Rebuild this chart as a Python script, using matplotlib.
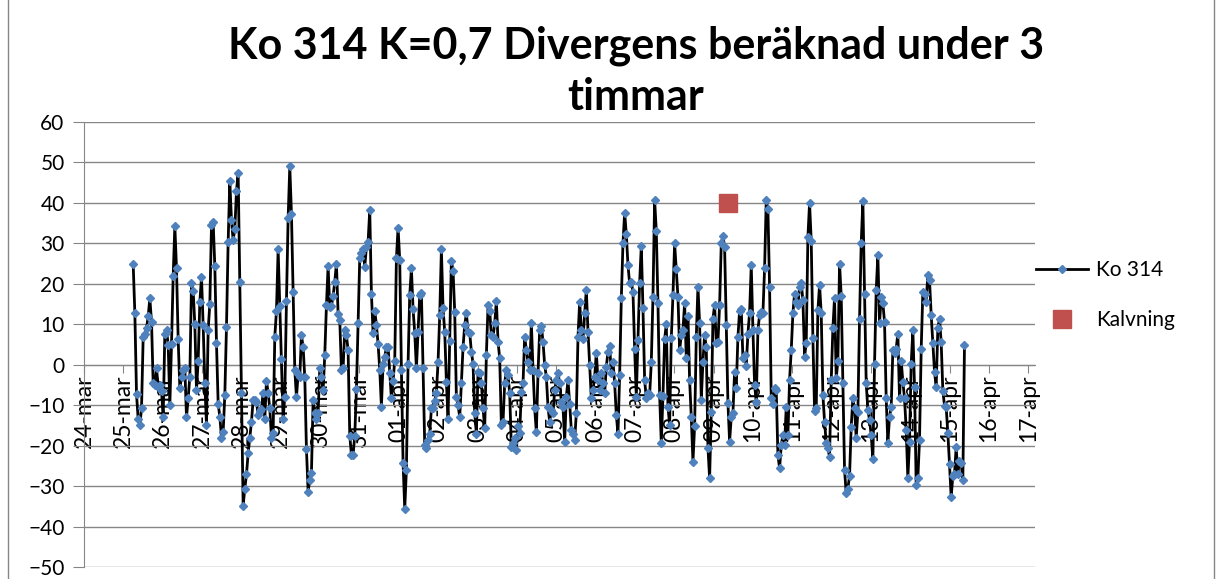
import numpy as np
import pandas as pd
import matplotlib
matplotlib.use("Agg")
import matplotlib.pyplot as plt

plt.rcParams['font.family'] = ['Lato', 'DejaVu Sans']

# Ko 314 divergens, one value per hour, 25-mar 06:00 -> 15-apr 09:00
divergens = [
    24.8, 12.7, -7.3, -13.5, -15, -10.8, 6.9, 7.5, 9, 12, 16.4, 10.6, -4.6, -5, -0.9, -5.4, -5, -6.4,
    -12.8, 7.7, 8.6, 4.9, -10, 5.1, 21.9, 34.3, 23.8, 6.3, -5.8, -3, -1.3, -0.9, -13, -8.3, -3, 20.3,
    18.3, 10, -6.3, 0.9, 15.5, 21.7, 9.8, -4.6, -14.9, 8.6, 15, 34.5, 35.3, 24.4, 5.3, -9.6,
    -12.8, -18, -16.6, -7.5, 9.4, 30.4, 45.4, 35.7, 30.8, 33.5, 43, 47.4, 20.5, -6.9, -34.8, -30.6,
    -27.1, -21.9, -18, -14.1, -8.7, -8.6, -9.1, -12.4, -11.4, -11, -6.9, -13.3, -4, -6.9, -10.8, -18,
    -16.8, 6.9, 13.3, 28.5, 14.5, 1.4, -13.3, -7.9, 15.8, 36.2, 49.1, 37.2, 18, -1.2, -8.1, -2.3, -3,
    7.3, 4.4, -3.1, -20.9, -31.4,
    -28.5, -26.7, -8.7, -12, -13.3, -12, -0.9, -3.1, -6.3, 2.4, 14.7, 24.4, 14.2, 14.5, 17, 20.5, 25,
    12.5, 11, -1.3, -0.9, 8.6, 7.3, 3.6, -17.5, -22.3, -22.3, -17.5, -6.1, 10.2, 26.5, 27.5, 28.5,
    24.2, 29.2, 30.4, 38.2, 17.5, 7.9, 13.3, 9.8, 5.1, -1.2, -10.4, 0.3, 2, 4.3, 4.4, -2.1, -8.3, -4,
    1, 26.3, 33.9,
    25.9, -1.3, -24.2, -35.7, -25.9, 0.3, 17.2, 23.8, 13.7, 7.9, -0.9, 8.2, 17.2, 17.8, -0.7, -19.9,
    -20.5, -18.6, -17, -10.8, -10.8, -8.9, -6.9, 0.7, 12.3, 28.5, 13.9, 8.2, -4.2, -13.3, 5.9, 25.7,
    23.2, 13.1, -7.9, -10, -12.9, -4.6, 4.4, 9.8, 12.7, 8.2, 7.9, 3.2, 0.3, -12, -17, -1.7, -2, -4.6,
    -10.8, -15.7, 2.4,
    14.7, 13.3, 7.3, 6.9, 10.2, 15.8, 5.7, 1.6, -14.9, -14.1, -4.6, -1.2, -2.6, -7.1, -20.3, -19.4,
    -18, -21.1, -15.2, -16.8, -6.7, -4.6, 6.9, 3.6, 0.7, -1.3, 10.4, -1.3, -10.8, -16.6, -2, 8.6, 9.6,
    5.7, -0.1, -3, -10.5, -14.1, -11.2, -12, -6.3, -3.8, -2, -4.6, -9.1, -10.4, -19, -7.9, -3.8, -9.6,
    -16.1, -17, -18.6, -12, 6.9,
    15.6, 8.6, 6.3, 12.7, 18.5, 8.2, -0.1, -8.3, -6.3, -3, 3, -3.8, -6.3, -2.1, -4.4, -7.1, -0.5, 3.2,
    4.6, -2.1, 0.7, -4.6, -12.4, -17.1, -2.6, 16.4, 30, 37.6, 32.3, 24.6, 20.1, 20.5, 18, 4, -7.9,
    6.1, 20.3, 29.4, 13.9, -3.8, -8.3, -7.1, -7.5, 0.7, 16.8, 40.7, 33.1, 15.2, -7.5, -19.4, -7.7,
    6.3, 10,
    -10.4, -14.9, 6.5, 17.2, 30, 23.6, 16.8, 3.6, 7.3, 8.6, 15.2, 1.6, 12.1, -3.8, -12.9, -24, -15.2,
    6.8, 19.3, 10.2, -8.6, 0.7, 7.3, 4.4, -20.5, -28.1, -11.6, 11.4, 14.7, 5.4, 5.7, 14.7, 30, 31.8,
    29.2, 9.8, -9.4, -19, -12.9, -12, -1.7, -5.8, 6.9, 13.3, 13.7, 1.6, 2.4, -0.3, 7.7, 12.9, 24.6,
    8.6, -5, -9.1,
    8.6, 12.3, 13.1, 12.7, 23.8, 40.7, 38.4, 19.3, -8.3, -9.7, -5.8, -6.3, -22.3, -25.6, -19.9, -17.4,
    -19.9, -10.4, -17.4, -3.8, 3.6, 12.7, 17.6, 15.6, 14.7, 19.3, 20.1, 16, 2, 5.3, 31.6, 40, 30.6,
    6.5, -11.4, -10.8, 13.5, 19.7, 12.7, -7.5, -14.1, -19.3, -20.7, -22.7, -3.8, 9, 16.6, -3.4, 1,
    25, 17, -4.6, -26, -31.8,
    -30.6, -27.5, -15.3, -8.3, -10.8, -18.2, -11.6, 11.2, 30.1, 40.5, 17.6, -4.6, -11.2, -13.7, -17.4,
    -23.4, 0.1, 18.5, 27.1, 10.2, 16.8, 15.2, 10.6, -8.3, -19.3, -12.9, -10.4, 3.6, 3, 4, 7.7, -8.3,
    1, -4.2, -8.3, -16.1, -28.1, -19, 0.2, 8.6, -5.4, -29.7, -28.1, -18.6, 3.8, 18, 17.5, 15.6, 22.2,
    20.9, 12.4, 5.3, -1.7, -5.4, 9, 11.4,
    5.6, -6.4, -10.1, -10.5, -16.9, -24.5, -32.8, -27.4, -27, -20.4, -27, -23.7, -24.4, -28.5, 5,
]
first_time = "2013-03-25 06:00"
last_time = "2013-04-15 09:00"

kalvning_time = "2013-04-09 09:00"
kalvning_value = 40

month_names = {3: "mar", 4: "apr"}
tick_days = pd.date_range("2013-03-24", "2013-04-17", freq="D")
yticks = list(range(-50, 61, 10))

GRAY = "#868686"

times = pd.date_range(first_time, last_time, periods=len(divergens))

fig = plt.figure(figsize=(12.21, 5.79), dpi=100)
ax = fig.add_axes([84 / 1221, 12 / 579, (1035 - 84) / 1221, (567 - 122) / 579])

ax.plot(times, divergens, color="black", lw=2, marker="D", ms=3.8,
        mfc="#4F81BD", mec="#4F81BD", label="Ko 314", zorder=4)
ax.plot([pd.Timestamp(kalvning_time)], [kalvning_value], linestyle="none", marker="s",
        ms=13, color="#C0504D", label="Kalvning", zorder=5)

ax.set_ylim(-50, 60)
ax.set_yticks(yticks)
ax.set_xlim(tick_days[0], tick_days[-1] + pd.Timedelta(hours=4))
ax.set_xticks(tick_days)
ax.set_xticklabels([f"{d.day:02d}-{month_names[d.month]}" for d in tick_days])

ax.grid(axis="y", color=GRAY, lw=1)
ax.set_axisbelow(True)
for s in ["top", "right"]:
    ax.spines[s].set_visible(False)
ax.spines["left"].set_color(GRAY)
ax.spines["bottom"].set_color(GRAY)
ax.spines["bottom"].set_position(("data", 0))
ax.tick_params(axis="y", direction="out", length=8, color=GRAY, labelsize=15, pad=6)
ax.tick_params(axis="x", direction="out", length=6, color=GRAY, labelsize=16.5, pad=1,
               labelrotation=90)

fig.text(636 / 1221, 1 - 26 / 579, "Ko 314 K=0,7 Divergens beräknad under 3\ntimmar",
         ha="center", va="top", fontsize=31, fontweight="bold", linespacing=1.33)

fig.legend(loc="upper left", bbox_to_anchor=(1036 / 1221, 1 - 260 / 579), frameon=False,
           fontsize=15, handlelength=2.5, handletextpad=0.4, labelspacing=1.45,
           borderpad=0, borderaxespad=0)

# chart border
fig.add_artist(plt.Line2D([8 / 1221, 8 / 1221], [0, 1], color=GRAY, lw=1))
fig.add_artist(plt.Line2D([1214 / 1221, 1214 / 1221], [0, 1], color=GRAY, lw=1))

fig.savefig("out.png", dpi=100)
